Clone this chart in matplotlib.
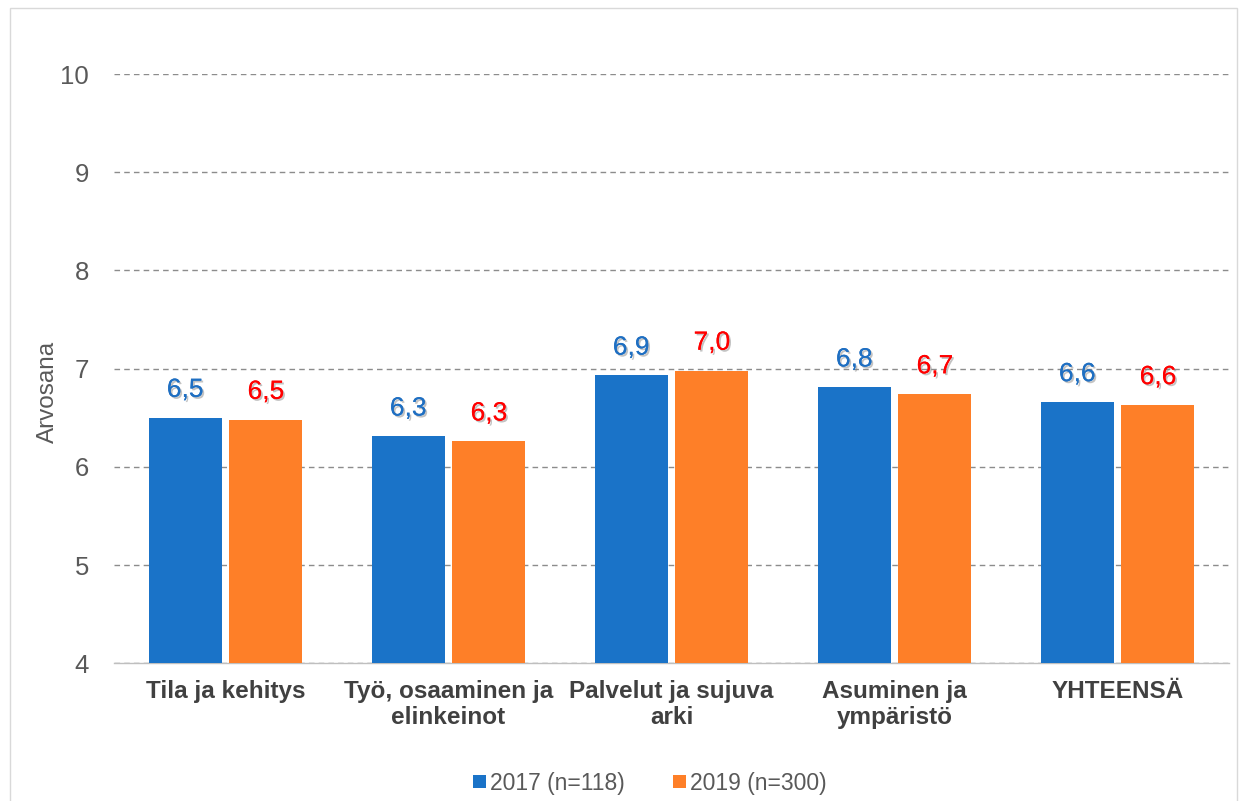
import matplotlib
matplotlib.use("Agg")
import matplotlib.pyplot as plt
import matplotlib.patheffects as pe
import numpy as np

categories = ["Tila ja kehitys", "Työ, osaaminen ja\nelinkeinot", "Palvelut ja sujuva\narki",
              "Asuminen ja\nympäristö", "YHTEENSÄ"]
vals_2017 = [6.50, 6.31, 6.93, 6.81, 6.66]
vals_2019 = [6.48, 6.26, 6.98, 6.74, 6.63]
labels_2017 = ["6,5", "6,3", "6,9", "6,8", "6,6"]
labels_2019 = ["6,5", "6,3", "7,0", "6,7", "6,6"]
series_names = ["2017 (n=118)", "2019 (n=300)"]
yticks = [4, 5, 6, 7, 8, 9, 10]

plt.rcParams['font.family'] = ['Liberation Sans', 'DejaVu Sans']

fig = plt.figure(figsize=(12.39, 8.01), dpi=100)
ax = fig.add_axes([0.092, 0.172, 0.9, 0.7356])

x = np.arange(len(categories))
w = 0.327
off = 0.181
c1, c2 = "#1A73C8", "#FE7F28"
b1 = ax.bar(x - off, vals_2017, w, color=c1, label=series_names[0], zorder=3)
b2 = ax.bar(x + off, vals_2019, w, color=c2, label=series_names[1], zorder=3)

shadow = [pe.withSimplePatchShadow(offset=(1.3, -1.3), shadow_rgbFace="#888888", alpha=0.5), pe.Normal()]
for xi, v, t in zip(x - off, vals_2017, labels_2017):
    ax.annotate(t, (xi, v), xytext=(0, 15), textcoords="offset points", ha="center", va="baseline",
                fontsize=19, color="#1F6FC2", path_effects=shadow, zorder=4)
for xi, v, t in zip(x + off, vals_2019, labels_2019):
    ax.annotate(t, (xi, v), xytext=(0, 15), textcoords="offset points", ha="center", va="baseline",
                fontsize=19, color="#FF0000", path_effects=shadow, zorder=4)

ax.set_ylim(4, 10)
ax.set_xlim(-0.5, len(categories) - 0.5)
ax.set_yticks(yticks)
ax.set_yticklabels([str(t) for t in yticks], fontsize=18.5, color="#595959")
ax.yaxis.grid(True, linestyle=(0, (4, 3)), color="#8C8C8C", linewidth=1.0, zorder=0)
ax.set_axisbelow(True)
ax.set_xticks(x)
ax.set_xticklabels(categories, fontsize=17.5, fontweight="bold", color="#404040", linespacing=1.15)
ax.tick_params(axis="x", length=0, pad=12)
ax.tick_params(axis="y", length=0, pad=18)
for s in ["top", "right", "left"]:
    ax.spines[s].set_visible(False)
ax.spines["bottom"].set_color("#BFBFBF")
ax.spines["bottom"].set_linewidth(1.0)

ax.set_ylabel("Arvosana", fontsize=17.5, color="#595959")
ax.yaxis.set_label_coords(-0.049, 0.46)

leg = fig.legend(handles=[b1, b2], labels=series_names, loc="lower center", ncol=2, frameon=False,
                 bbox_to_anchor=(0.5246, -0.018), fontsize=16.5, handlelength=0.55, handleheight=0.5,
                 columnspacing=2.1, handletextpad=0.2)
for t in leg.get_texts():
    t.set_color("#595959")

border = plt.Rectangle((0.008, -0.01), 0.99, 1.0, transform=fig.transFigure, fill=False,
                       edgecolor="#D9D9D9", linewidth=1.0)
fig.patches.append(border)

fig.savefig("out.png", dpi=100)
